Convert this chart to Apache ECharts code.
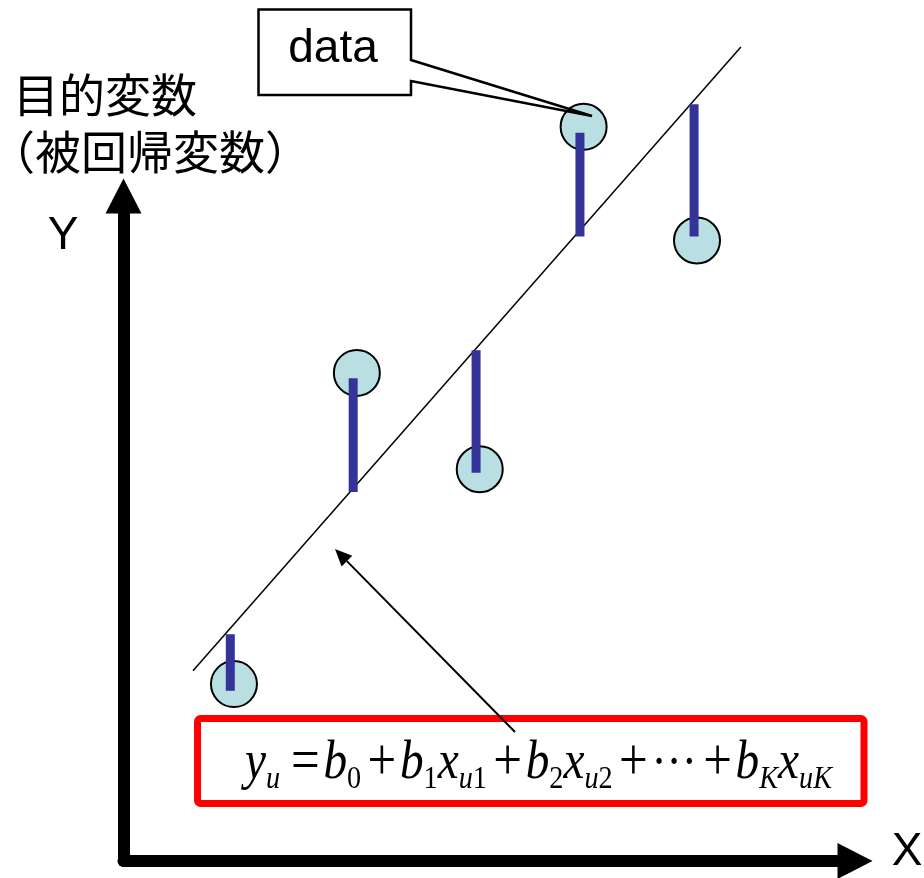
<!DOCTYPE html>
<html>
<head>
<meta charset="utf-8">
<title>回帰直線</title>
<script src="https://cdn.jsdelivr.net/npm/echarts@6/dist/echarts.min.js"></script>
<style>
  html, body { margin: 0; padding: 0; background: #fff; }
  #chart { width: 924px; height: 878px; }
</style>
</head>
<body>
<div id="chart"></div>
<script>
// 観測データ（目盛りは0〜100の任意単位）
const pointX = [15.1, 31.9, 48.7, 62.9, 78.4];
const pointY = [26.6, 73.4, 58.9, 110.4, 93.3];
// 残差（青い縦棒）：x位置と下端・上端
const residualX = [14.6, 31.4, 48.2, 62.4, 78.0];
const residualLow = [25.6, 55.5, 58.4, 93.9, 93.9];
const residualHigh = [34.1, 72.6, 76.8, 109.5, 113.8];
// 回帰直線の両端
const fitX = [9.5, 84.4];
const fitY = [28.6, 122.4];

const chart = echarts.init(document.getElementById('chart'));

const serif = 'Liberation Serif, Times New Roman, serif';

// 矢印（式から直線へ）
const tail = [515, 732];
const tip = [335, 549];
const len = Math.hypot(tip[0] - tail[0], tip[1] - tail[1]);
const ux = (tip[0] - tail[0]) / len, uy = (tip[1] - tail[1]) / len;
const headLen = 17, headHalf = 7.5;
const base = [tip[0] - ux * headLen, tip[1] - uy * headLen];

let option = {
  backgroundColor: '#fff',
  animation: false,
  grid: { left: 123.5, right: 69, top: 196, bottom: 17 },
  xAxis: {
    type: 'value', min: 0, max: 100,
    axisLine: {
      show: true,
      symbol: ['none', 'triangle'],
      symbolSize: [36, 35],
      lineStyle: { color: '#000', width: 12 }
    },
    axisTick: { show: false },
    axisLabel: { show: false },
    splitLine: { show: false }
  },
  yAxis: {
    type: 'value', min: 0, max: 100,
    axisLine: {
      show: true,
      symbol: ['none', 'triangle'],
      symbolSize: [36, 35],
      lineStyle: { color: '#000', width: 12 }
    },
    axisTick: { show: false },
    axisLabel: { show: false },
    splitLine: { show: false }
  },
  series: [
    {
      name: '回帰直線',
      type: 'line',
      data: fitX.map((x, i) => [x, fitY[i]]),
      symbol: 'none',
      clip: false,
      lineStyle: { color: '#000', width: 1.5 },
      z: 1
    },
    {
      name: 'data',
      type: 'scatter',
      data: pointX.map((x, i) => [x, pointY[i]]),
      symbolSize: 46,
      clip: false,
      itemStyle: { color: '#BADFE3', borderColor: '#000', borderWidth: 2, opacity: 1 },
      z: 2
    },
    {
      name: '残差',
      type: 'custom',
      data: residualX.map((x, i) => [x, residualLow[i], residualHigh[i]]),
      clip: false,
      renderItem: function (params, api) {
        const top = api.coord([api.value(0), api.value(2)]);
        const bottom = api.coord([api.value(0), api.value(1)]);
        return {
          type: 'rect',
          shape: { x: top[0] - 4.5, y: top[1], width: 9, height: bottom[1] - top[1] },
          style: { fill: '#333399' }
        };
      },
      z: 3
    }
  ],
  graphic: [
    // 軸ラベル
    {
      type: 'text', z: 10,
      style: { x: 13, y: 95, text: '目的変数', textAlign: 'left', textVerticalAlign: 'middle', align: 'left', verticalAlign: 'middle',
        font: '46px "Noto Sans CJK JP"', fill: '#000' }
    },
    {
      type: 'text', z: 10,
      style: { x: 150, y: 152, text: '（被回帰変数）', textAlign: 'center', textVerticalAlign: 'middle', align: 'center', verticalAlign: 'middle',
        font: '46px "Noto Sans CJK JP"', fill: '#000' }
    },
    {
      type: 'text', z: 10,
      style: { x: 63, y: 236, text: 'Y', textAlign: 'center', textVerticalAlign: 'middle', align: 'center', verticalAlign: 'middle',
        font: '46px "Liberation Sans"', fill: '#000' }
    },
    {
      type: 'text', z: 10,
      style: { x: 907, y: 852, text: 'X', textAlign: 'center', textVerticalAlign: 'middle', align: 'center', verticalAlign: 'middle',
        font: '46px "Liberation Sans"', fill: '#000' }
    },
    // data の吹き出し
    {
      type: 'polygon', z: 20,
      shape: { points: [[258.5, 9.5], [411, 9.5], [411, 60], [592, 116], [411, 81], [411, 95], [258.5, 95]] },
      style: { fill: '#fff', stroke: '#000', lineWidth: 2.5, lineJoin: 'miter' }
    },
    {
      type: 'text', z: 21,
      style: { x: 333, y: 49, text: 'data', textAlign: 'center', textVerticalAlign: 'middle', align: 'center', verticalAlign: 'middle',
        font: '46px "Liberation Sans"', fill: '#000' }
    },
    // 式の枠
    {
      type: 'rect', z: 20,
      shape: { x: 197.5, y: 718.5, width: 666.5, height: 85, r: 3 },
      style: { fill: '#fff', stroke: '#FF0000', lineWidth: 7 }
    },
    {
      type: 'text', z: 21,
      x: 245, y: 764, scaleX: 0.91, scaleY: 1.04,
      style: {
        x: 0, y: 0,
        text: '{m|y}{s|u}{e|=}{m|b}{n|0}{o|+}{m|b}{n|1}{m|x}{s|u}{n|1}{o|+}{m|b}{n|2}{m|x}{s|u}{n|2}{o|+}{d|···}{o|+}{m|b}{s|K}{m|x}{s|uK}',
        textAlign: 'left', textVerticalAlign: 'middle', align: 'left', verticalAlign: 'middle',
        rich: {
          m: { fontFamily: serif, fontStyle: 'italic', fontSize: 52, fill: '#000' },
          s: { fontFamily: serif, fontStyle: 'italic', fontSize: 31, fill: '#000', padding: [30, 0, 0, 0] },
          n: { fontFamily: serif, fontSize: 31, fill: '#000', padding: [30, 0, 0, 0] },
          e: { fontFamily: serif, fontSize: 56, fill: '#000', padding: [0, 4, 0, 12] },
          o: { fontFamily: serif, fontSize: 56, fill: '#000', padding: [0, 4, 0, 7] },
          d: { fontFamily: serif, fontSize: 50, fill: '#000' }
        }
      }
    },
    // 式から直線への矢印
    {
      type: 'line', z: 30,
      shape: { x1: tail[0], y1: tail[1], x2: base[0], y2: base[1] },
      style: { stroke: '#000', lineWidth: 2 }
    },
    {
      type: 'polygon', z: 30,
      shape: {
        points: [
          tip,
          [base[0] - uy * headHalf, base[1] + ux * headHalf],
          [base[0] + uy * headHalf, base[1] - ux * headHalf]
        ]
      },
      style: { fill: '#000' }
    }
  ]
};

option && chart.setOption(option);
</script>
</body>
</html>
